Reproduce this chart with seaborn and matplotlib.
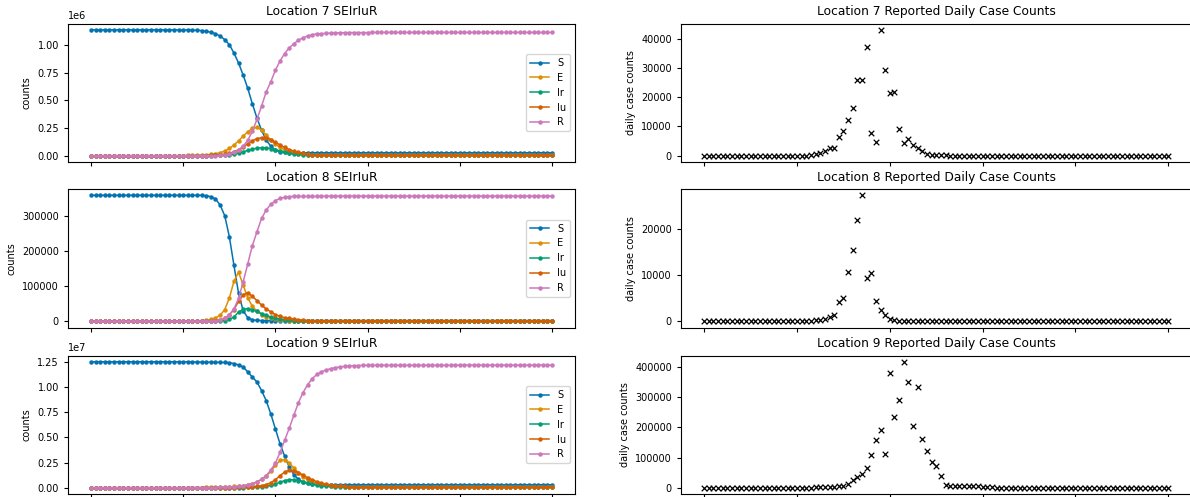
import numpy as np
import pandas as pd
import matplotlib
matplotlib.use("Agg")
import matplotlib.pyplot as plt
from matplotlib.ticker import MaxNLocator
import seaborn as sns

days = np.arange(101)
compartments = ["S", "E", "Ir", "Iu", "R"]

# ---- Location 7 compartments (millions) ----
loc7_S = ([1.140] * 20 + [1.139, 1.139, 1.138, 1.136]
          + [1.133, 1.127, 1.117, 1.105, 1.084, 1.051, 1.006, 0.93, 0.84, 0.73,
             0.61, 0.47, 0.34, 0.23, 0.14, 0.087, 0.05, 0.036, 0.03, 0.028]
          + [0.027] * 57)
loc7_E = ([0.0] * 20 + [0.001, 0.002, 0.003, 0.004]
          + [0.005, 0.008, 0.012, 0.018, 0.027, 0.042, 0.066, 0.096, 0.135, 0.178,
             0.217, 0.247, 0.256, 0.232, 0.187, 0.142, 0.105, 0.075, 0.054, 0.039,
             0.027, 0.018, 0.012, 0.008, 0.005, 0.003]
          + [0.002] * 51)
loc7_Ir = ([0.0] * 26
           + [0.001, 0.002, 0.003, 0.005, 0.008, 0.014, 0.024, 0.036, 0.048, 0.06,
              0.068, 0.072, 0.071, 0.065, 0.055, 0.044, 0.034, 0.025, 0.018, 0.013,
              0.009, 0.006, 0.004, 0.003]
           + [0.002] * 51)
loc7_Iu = ([0.0] * 26
           + [0.002, 0.004, 0.007, 0.012, 0.02, 0.035, 0.055, 0.08, 0.108, 0.135,
              0.155, 0.163, 0.16, 0.145, 0.122, 0.098, 0.075, 0.056, 0.041, 0.03,
              0.021, 0.015, 0.01, 0.007, 0.005]
           + [0.004] * 50)
loc7_R = ([0.0] * 28
          + [0.004, 0.008, 0.015, 0.03, 0.05, 0.085, 0.14, 0.22, 0.33, 0.449,
             0.578, 0.669, 0.774, 0.858, 0.925, 0.976, 1.015, 1.045, 1.069, 1.084,
             1.096, 1.102, 1.106, 1.108, 1.110, 1.112, 1.113, 1.114]
          + [1.115] * 5 + [1.116] * 40)

# ---- Location 8 compartments (thousands) ----
loc8_S = ([360] * 25
          + [359, 356, 350, 332, 302, 242, 160, 80, 30, 10, 4, 2.5]
          + [2] * 64)
loc8_E = ([0] * 23
          + [1, 2, 3, 5, 9, 17, 33, 66, 114, 140, 104, 66, 43, 28, 19, 13, 9, 6, 4, 3, 2]
          + [1] * 57)
loc8_Ir = ([0] * 28
           + [1, 2, 5, 12, 26, 34, 36, 33, 28, 22, 17, 12, 9, 6, 4, 3, 2]
           + [1] * 56)
loc8_Iu = ([0] * 26
           + [1, 2, 4, 8, 19, 33, 57, 76, 81, 71, 59, 46, 35, 27, 19, 14, 10, 8, 6, 4, 3, 2, 1.5]
           + [1] * 52)
loc8_R = ([0] * 27
          + [1, 3, 8, 18, 35, 65, 112, 164, 216, 256, 294, 318, 334, 345, 351, 354, 356]
          + [357] * 7 + [358] * 50)

# ---- Location 9 compartments (tens of millions) ----
loc9_S = ([1.251] * 20
          + [1.25, 1.25, 1.249, 1.249, 1.248, 1.248, 1.247, 1.246, 1.245, 1.244]
          + [1.242, 1.234, 1.22, 1.2, 1.15, 1.1, 1.05, 0.965, 0.865, 0.733,
             0.584, 0.436, 0.314, 0.205, 0.129, 0.083, 0.056, 0.043, 0.036, 0.033]
          + [0.03] * 51)
loc9_E = ([0.0] * 20
          + [0.001, 0.001, 0.001, 0.002, 0.002, 0.003, 0.003, 0.004, 0.005, 0.006]
          + [0.008, 0.012, 0.015, 0.02, 0.03, 0.04, 0.056, 0.083, 0.116, 0.162,
             0.221, 0.271, 0.28, 0.248, 0.195, 0.149, 0.109, 0.079, 0.056, 0.043,
             0.033, 0.026, 0.02, 0.016, 0.013, 0.011, 0.009, 0.008, 0.007, 0.006]
          + [0.005] * 41)
loc9_Ir = ([0.0] * 30
           + [0.001, 0.001, 0.002, 0.002, 0.003, 0.004, 0.006, 0.009, 0.014, 0.023,
              0.036, 0.054, 0.071, 0.08, 0.079, 0.07, 0.058, 0.046, 0.036, 0.028,
              0.021, 0.016, 0.012, 0.009, 0.007, 0.005]
           + [0.004] * 45)
loc9_Iu = ([0.0] * 25 + [0.001] * 5
           + [0.002, 0.002, 0.003, 0.004, 0.006, 0.009, 0.013, 0.02, 0.03, 0.05,
              0.08, 0.12, 0.155, 0.175, 0.17, 0.15, 0.125, 0.1, 0.078, 0.06,
              0.046, 0.035, 0.027, 0.02, 0.015, 0.012, 0.009, 0.007]
           + [0.006] * 43)
loc9_R = ([0.0] * 25 + [0.001, 0.001, 0.002, 0.003, 0.004]
          + [0.005, 0.008, 0.012, 0.018, 0.027, 0.04, 0.058, 0.085, 0.12, 0.175,
             0.245, 0.35, 0.47, 0.59, 0.72, 0.845, 0.945, 1.025, 1.085, 1.125,
             1.152, 1.17, 1.183, 1.193, 1.2, 1.205, 1.209, 1.212, 1.214]
          + [1.216] * 20 + [1.218] * 22)

# ---- Reported daily case counts ----
reported7 = ([0] * 23
             + [300, 700, 1000, 1600, 2800, 2500, 6500, 8400, 12100, 16400,
                26000, 26000, 37100, 7800, 4650, 43000, 29400, 21500, 21800, 8960,
                4200, 5560, 3630, 2700, 1600, 450]
             + [250, 200, 150, 100]
             + [0] * 48)
reported8 = ([0] * 24
             + [216, 216, 430, 860, 1440, 4170, 5030, 10570, 15310, 21920,
                27180, 9350, 10500, 4300, 2520, 1440, 575, 360]
             + [150, 100]
             + [0] * 57)
reported9 = ([0] * 24
             + [2000, 2000, 2500, 2500, 3500, 4500, 6000, 13200, 24200, 35300,
                46300, 65000, 109000, 158700, 192800, 110200, 379000, 235800, 290900, 417600,
                351500, 203900, 335000, 162000, 121200, 84800, 70500, 37500, 9900]
             + [7000, 6500, 6000, 6000, 5500, 5000, 4500, 3500, 2000, 1000]
             + [0] * 38)

locations = [
    ("Location 7", 1e6, [loc7_S, loc7_E, loc7_Ir, loc7_Iu, loc7_R], reported7),
    ("Location 8", 1e3, [loc8_S, loc8_E, loc8_Ir, loc8_Iu, loc8_R], reported8),
    ("Location 9", 1e7, [loc9_S, loc9_E, loc9_Ir, loc9_Iu, loc9_R], reported9),
]

plt.rcParams.update({
    "font.family": ["DejaVu Sans"],
    "font.size": 7,
    "axes.titlesize": 8.8,
    "axes.labelsize": 7,
    "xtick.labelsize": 7,
    "ytick.labelsize": 7,
    "legend.fontsize": 7,
    "xtick.major.size": 3,
    "ytick.major.size": 3,
    "axes.linewidth": 0.8,
})
palette = sns.color_palette("colorblind", 5)
nice_steps = [1, 2, 2.5, 5, 10]

W, H = 1190, 497
fig = plt.figure(figsize=(W / 100, H / 100), dpi=100)

row_tops = [23.5, 189.0, 355.5]
row_h = 138.5
left_x0, left_x1 = 68.0, 575.0
right_x0, right_x1 = 681.0, 1191.5

left_axes, right_axes = [], []
for i, (name, scale, series, reported) in enumerate(locations):
    bottom = 1 - (row_tops[i] + row_h) / H
    ax_l = fig.add_axes([left_x0 / W, bottom, (left_x1 - left_x0) / W, row_h / H],
                        sharex=left_axes[0] if left_axes else None)
    ax_r = fig.add_axes([right_x0 / W, bottom, (right_x1 - right_x0) / W, row_h / H],
                        sharex=right_axes[0] if right_axes else None)
    left_axes.append(ax_l)
    right_axes.append(ax_r)

    for comp, vals, color in zip(compartments, series, palette):
        df = pd.DataFrame({"day": days, "count": np.asarray(vals, dtype=float) * scale})
        sns.lineplot(data=df, x="day", y="count", ax=ax_l, color=color, label=comp,
                     marker="o", markersize=3.2, markeredgewidth=0, linewidth=1.1)
    ax_l.legend(loc="center right")
    ax_l.set_title(f"{name} SEIrIuR")
    ax_l.set_ylabel("counts")
    ax_l.set_xlabel("")
    ax_l.yaxis.set_major_locator(MaxNLocator(nbins=6, steps=nice_steps))

    df_r = pd.DataFrame({"day": days, "cases": reported})
    sns.scatterplot(data=df_r, x="day", y="cases", ax=ax_r, marker="x",
                    color="black", s=16, linewidth=0.9)
    ax_r.set_title(f"{name} Reported Daily Case Counts")
    ax_r.set_ylabel("daily case counts")
    ax_r.set_xlabel("")
    ax_r.yaxis.set_major_locator(MaxNLocator(nbins=5, steps=nice_steps))

for axes in (left_axes, right_axes):
    axes[0].set_xticks([0, 20, 40, 60, 80, 100])
    axes[0].set_xlim(-5, 105)
    for ax in axes:
        ax.tick_params(labelbottom=False)

fig.savefig("out.png", dpi=100)
